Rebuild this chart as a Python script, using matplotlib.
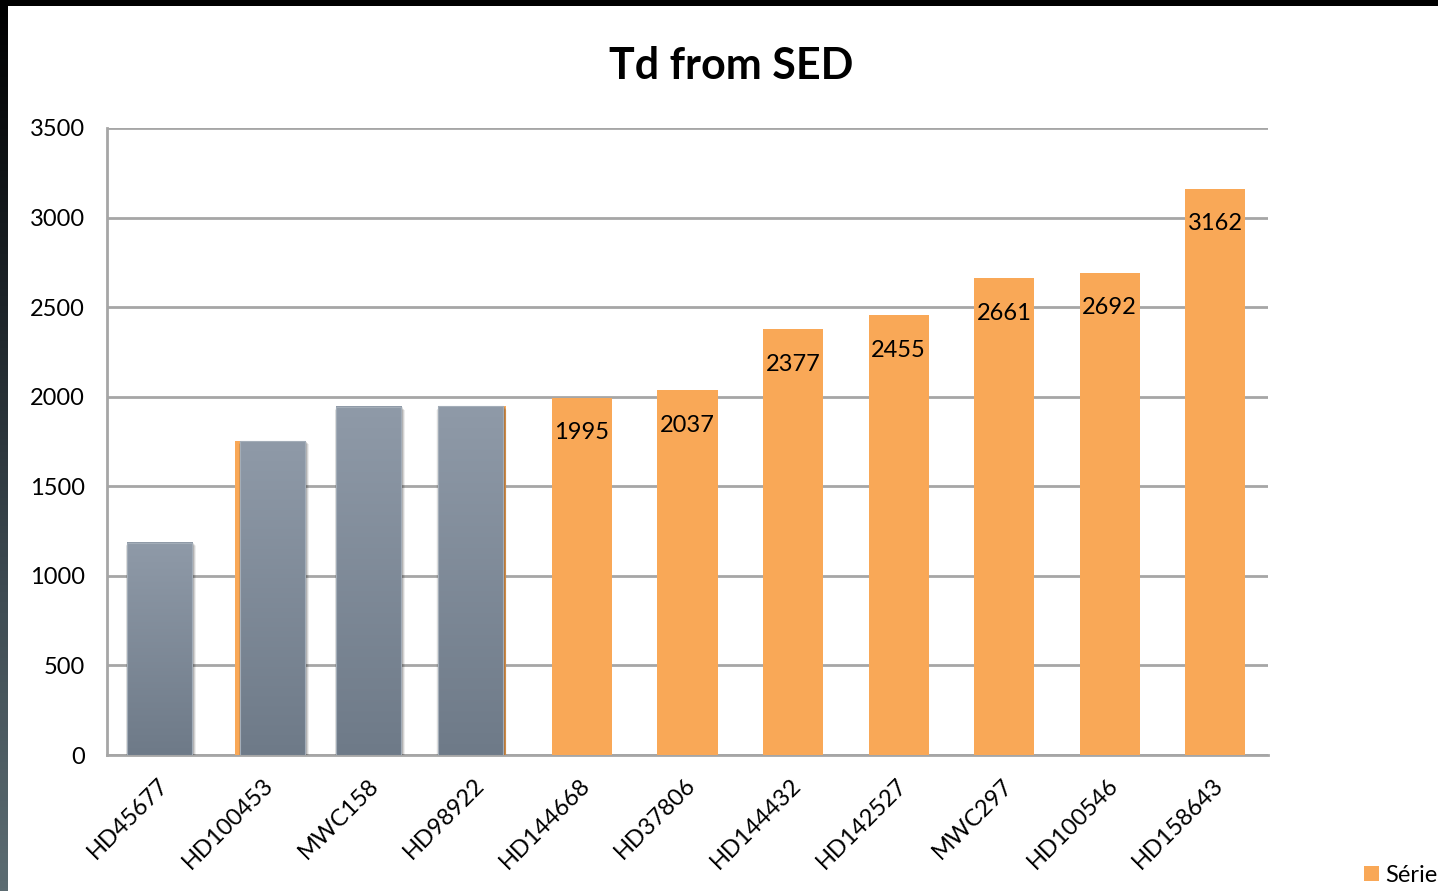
import numpy as np
import matplotlib
matplotlib.use("Agg")
import matplotlib.pyplot as plt
from matplotlib.patches import Rectangle
from matplotlib.colors import LinearSegmentedColormap
import matplotlib.transforms as mtransforms

plt.rcParams['font.family'] = ['Lato', 'DejaVu Sans']

# ---- data ----
stars = ["HD45677", "HD100453", "MWC158", "HD98922", "HD144668", "HD37806",
         "HD144432", "HD142527", "MWC297", "HD100546", "HD158643"]
td_sed = [1185, 1750, 1945, 1950, 1995, 2037, 2377, 2455, 2661, 2692, 3162]
labelled = [False, False, False, False, True, True, True, True, True, True, True]
# grey overlay bars on the first four stars
overlay_idx = [0, 1, 2, 3]
overlay_vals = [1185, 1752, 1943, 1946]
yticks = [0, 500, 1000, 1500, 2000, 2500, 3000, 3500]
title = "Td from SED"
legend_label = "Série"

# ---- styling ----
W, H = 1438, 891
orange = "#F9A857"
grid_col = "#A6A6A6"
overlay_shift = [0.0, 0.07, -0.02, -0.055]

fig = plt.figure(figsize=(W / 100, H / 100), dpi=100, facecolor="white")

# dark frame: black band on top, dark gradient strip on the left
frame = fig.add_axes([0, 0, 1, 1], zorder=-10)
frame.set_xlim(0, W)
frame.set_ylim(H, 0)
frame.axis("off")
frame.add_patch(Rectangle((0, 0), W, 6, color="black", lw=0))
strip = np.linspace(0, 1, 256)[:, None]
strip_cmap = LinearSegmentedColormap.from_list("strip", ["#000000", "#1c2328", "#3e4b52", "#5c6c72"])
frame.imshow(strip, extent=(0, 8, H, 0), cmap=strip_cmap, aspect="auto")

ax = fig.add_axes([107 / W, (H - 755) / H, 1161 / W, 627 / H])
ax.set_xlim(-0.5, len(stars) - 0.5)
ax.set_ylim(0, 3500)
ax.set_facecolor("none")

for s in ["top", "right"]:
    ax.spines[s].set_visible(False)
for s in ["left", "bottom"]:
    ax.spines[s].set_color(grid_col)
    ax.spines[s].set_linewidth(2)

ax.set_yticks(yticks)
ax.set_yticklabels([str(v) for v in yticks], fontsize=17)
ax.tick_params(axis="y", length=0, pad=16)
ax.yaxis.grid(True, color=grid_col, lw=2)
ax.set_axisbelow(True)
ax.set_xticks([])

x = np.arange(len(stars))
bar_w = 0.57
ax.bar(x, td_sed, width=bar_w, color=orange, zorder=3, lw=0)

for i, v, lab in zip(x, td_sed, labelled):
    if lab:
        ax.annotate(str(v), (i, v), xytext=(0, -35), textcoords="offset pixels",
                    ha="center", va="center", fontsize=17, color="black", zorder=6)

# grey overlay bars with vertical gradient and soft shadow
grad = np.linspace(0, 1, 256)[:, None]
grey_cmap = LinearSegmentedColormap.from_list("grey", ["#8F9AA8", "#6E7A88"])
gw = 0.62
for idx, v, sh in zip(overlay_idx, overlay_vals, overlay_shift):
    x0 = idx + sh - gw / 2
    for k, a in zip(range(6, 0, -1), [0.03, 0.04, 0.05, 0.06, 0.07, 0.08]):
        dx = 0.004 * k
        ax.add_patch(Rectangle((x0 - dx + 0.01, -18 * k / 6 - 8), gw + 2 * dx, v + 8,
                               color="black", alpha=a, lw=0, zorder=4))
    ax.imshow(grad, extent=(x0, x0 + gw, 0, v), cmap=grey_cmap,
              aspect="auto", zorder=5, origin="upper")
    ax.add_patch(Rectangle((x0, 0), gw, v, fill=False, ec="#A3ADB8", lw=0.8, zorder=5))

ax.set_xlim(-0.5, len(stars) - 0.5)
ax.set_ylim(0, 3500)

# rotated category labels
for i, name in enumerate(stars):
    off = mtransforms.offset_copy(ax.transData, fig=fig, x=5, y=-27, units="dots")
    ax.text(i, 0, name, transform=off, rotation=45, rotation_mode="anchor",
            ha="right", va="center", fontsize=17, clip_on=False)

fig.text(0.5085, 1 - 66 / H, title, ha="center", va="center", fontsize=31, fontweight="bold")

# legend entry at the lower right corner
frame.add_patch(Rectangle((1364, 866), 15, 15, color=orange, lw=0))
frame.text(1385, 875, legend_label, ha="left", va="center", fontsize=17)

fig.savefig("out.png", dpi=100, facecolor="white")
